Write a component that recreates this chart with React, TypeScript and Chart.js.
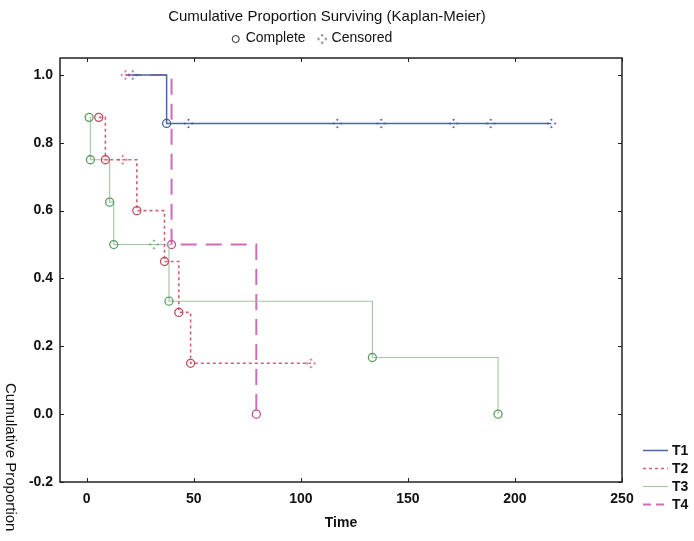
import React, { useEffect, useRef } from "react";
import { Chart, registerables } from "chart.js";

Chart.register(...registerables);

// ---- data ----
const xTicks = [0, 50, 100, 150, 200, 250];
const yTicks = [-0.2, 0, 0.2, 0.4, 0.6, 0.8, 1.0];

const seriesNames = ["T1", "T2", "T3", "T4"];

const t1Time = [21.5, 37.3, 47.5, 117, 137.5, 171.3, 188.7, 217];
const t1Surv = [1.0, 0.857, 0.857, 0.857, 0.857, 0.857, 0.857, 0.857];
const t1Cens = [1, 0, 1, 1, 1, 1, 1, 1];

const t2Time = [5.6, 8.7, 16.8, 23.4, 36.3, 43, 48.5, 104.7];
const t2Surv = [0.875, 0.75, 0.75, 0.6, 0.45, 0.3, 0.15, 0.15];
const t2Cens = [0, 0, 1, 0, 0, 0, 0, 1];

const t3Time = [1.1, 1.7, 10.7, 12.6, 31.4, 38.4, 133.4, 192.1];
const t3Surv = [0.875, 0.75, 0.625, 0.5, 0.5, 0.333, 0.167, 0.0];
const t3Cens = [0, 0, 0, 0, 1, 0, 0, 0];

const t4Time = [18, 39.6, 79.2];
const t4Surv = [1.0, 0.5, 0.0];
const t4Cens = [1, 0, 0];

// ---- styles ----
const FONT = '"Liberation Sans", Arial, sans-serif';
const lineColors = ["#4a6a9e", "#d06078", "#a3c7a3", "#cc6cbc"];
const markColors = ["#3e5d92", "#c44a5c", "#5a9e64", "#c4508c"];
const lineWidths = [1.5, 1.6, 1.1, 2];
const lineDashes: number[][] = [[], [3, 3], [], [16, 9]];

function censorMarker(color: string): HTMLCanvasElement {
  const c = document.createElement("canvas");
  c.width = 11;
  c.height = 11;
  const g = c.getContext("2d")!;
  g.fillStyle = color;
  const pts = [
    [5.5, 1.8],
    [5.5, 9.2],
    [1.8, 5.5],
    [9.2, 5.5],
  ];
  for (const [x, y] of pts) {
    g.beginPath();
    g.arc(x, y, 1.0, 0, Math.PI * 2);
    g.fill();
  }
  return c;
}

function makeDataset(i: number, times: number[], surv: number[], cens: number[]) {
  const marker = censorMarker(markColors[i]);
  return {
    label: seriesNames[i],
    data: times.map((t, k) => ({ x: t, y: surv[k] })),
    borderColor: lineColors[i],
    borderWidth: lineWidths[i],
    borderDash: lineDashes[i],
    stepped: "before" as const,
    fill: false,
    pointStyle: cens.map((c) => (c ? marker : "circle")),
    pointRadius: 4,
    pointBorderWidth: 1.3,
    pointBorderColor: markColors[i],
    pointBackgroundColor: "rgba(255,255,255,0)",
  };
}

const decorPlugin = {
  id: "decor",
  afterDraw(chart: any) {
    const { ctx, chartArea: a, scales } = chart;
    const xs = scales.x;
    const ys = scales.y;
    ctx.save();
    // frame
    ctx.strokeStyle = "#222";
    ctx.lineWidth = 1.5;
    ctx.setLineDash([]);
    ctx.strokeRect(a.left, a.top, a.right - a.left, a.bottom - a.top);
    ctx.lineWidth = 1;
    for (const v of xTicks) {
      const px = Math.round(xs.getPixelForValue(v)) + 0.5;
      ctx.beginPath();
      ctx.moveTo(px, a.bottom);
      ctx.lineTo(px, a.bottom - 4);
      ctx.moveTo(px, a.top);
      ctx.lineTo(px, a.top + 4);
      ctx.stroke();
    }
    for (const v of yTicks) {
      const py = Math.round(ys.getPixelForValue(v)) + 0.5;
      ctx.beginPath();
      ctx.moveTo(a.left, py);
      ctx.lineTo(a.left + 4, py);
      ctx.moveTo(a.right, py);
      ctx.lineTo(a.right - 4, py);
      ctx.stroke();
    }

    ctx.fillStyle = "#111";
    ctx.textBaseline = "middle";
    // title
    ctx.font = `15px ${FONT}`;
    ctx.textAlign = "center";
    ctx.fillText("Cumulative Proportion Surviving (Kaplan-Meier)", 327, 17);

    // subtitle legend
    ctx.textAlign = "left";
    ctx.font = `14px ${FONT}`;
    const wC = ctx.measureText("Complete").width;
    const wS = ctx.measureText("Censored").width;
    const total = 8 + 6 + wC + 12 + 8 + 6 + wS;
    let x = 312 - total / 2;
    ctx.strokeStyle = "#222";
    ctx.lineWidth = 1;
    ctx.beginPath();
    ctx.arc(x + 4, 39, 3.5, 0, Math.PI * 2);
    ctx.stroke();
    x += 14;
    ctx.fillText("Complete", x, 38);
    x += wC + 12;
    ctx.drawImage(censorMarker("#444"), x - 1, 39 - 5.5);
    x += 14;
    ctx.fillText("Censored", x, 38);

    // x-axis title
    ctx.font = `bold 14px ${FONT}`;
    ctx.textAlign = "center";
    ctx.fillText("Time", (a.left + a.right) / 2, 523);

    // y-axis title (rotated clockwise)
    ctx.save();
    ctx.translate(10, 383);
    ctx.rotate(Math.PI / 2);
    ctx.textAlign = "left";
    ctx.font = `15px ${FONT}`;
    ctx.fillText("Cumulative Proportion", 0, 0);
    ctx.restore();

    // legend
    const ly = [450, 468, 486, 504];
    for (let i = 0; i < 4; i++) {
      ctx.strokeStyle = lineColors[i];
      ctx.lineWidth = lineWidths[i];
      ctx.setLineDash(i === 3 ? [8, 5] : lineDashes[i]);
      ctx.beginPath();
      ctx.moveTo(643, ly[i] + 0.5);
      ctx.lineTo(668, ly[i] + 0.5);
      ctx.stroke();
      ctx.setLineDash([]);
      ctx.fillStyle = "#111";
      ctx.font = `bold 14px ${FONT}`;
      ctx.textAlign = "left";
      ctx.fillText(seriesNames[i], 672, ly[i] + 1);
    }
    ctx.restore();
  },
};

export default function App() {
  const ref = useRef<HTMLCanvasElement | null>(null);
  useEffect(() => {
    document.body.style.margin = "0";
    const canvas = ref.current;
    if (!canvas) return;
    const chart = new Chart(canvas, {
      type: "line",
      data: {
        datasets: [
          makeDataset(0, t1Time, t1Surv, t1Cens),
          makeDataset(1, t2Time, t2Surv, t2Cens),
          makeDataset(2, t3Time, t3Surv, t3Cens),
          makeDataset(3, t4Time, t4Surv, t4Cens),
        ] as any,
      },
      options: {
        animation: false,
        responsive: false,
        layout: { padding: { left: 20, right: 72, top: 58, bottom: 0 } },
        plugins: {
          legend: { display: false },
          title: { display: false },
          tooltip: { enabled: false },
        },
        scales: {
          x: {
            type: "linear",
            min: -12.5,
            max: 250,
            afterBuildTicks: (s: any) => {
              s.ticks = xTicks.map((v) => ({ value: v }));
            },
            afterFit: (s: any) => {
              s.height = 59;
            },
            grid: { display: false, drawTicks: false },
            border: { display: false },
            ticks: {
              padding: 9,
              color: "#111",
              font: { family: FONT, size: 14, weight: "bold" },
              maxRotation: 0,
              callback: (v: any) => String(v),
            },
          },
          y: {
            type: "linear",
            min: -0.2,
            max: 1.05,
            afterBuildTicks: (s: any) => {
              s.ticks = yTicks.map((v) => ({ value: v }));
            },
            afterFit: (s: any) => {
              s.width = 40;
            },
            grid: { display: false, drawTicks: false },
            border: { display: false },
            ticks: {
              padding: 7,
              color: "#111",
              font: { family: FONT, size: 14, weight: "bold" },
              callback: (v: any) => Number(v).toFixed(1),
            },
          },
        },
      },
      plugins: [decorPlugin],
    });
    return () => chart.destroy();
  }, []);
  return (
    <div style={{ width: 694, height: 541 }}>
      <canvas ref={ref} width={694} height={541} style={{ display: "block" }} />
    </div>
  );
}
